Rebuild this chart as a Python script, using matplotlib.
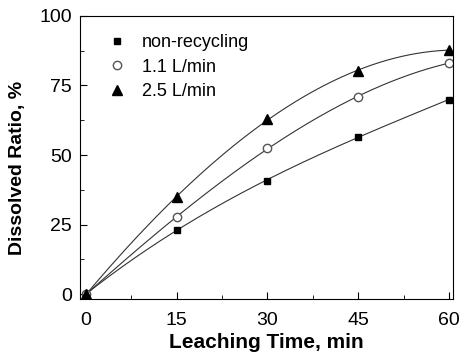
import numpy as np
import matplotlib.pyplot as plt
from matplotlib.ticker import MultipleLocator

plt.rcParams['font.family'] = ['Liberation Sans', 'DejaVu Sans']

# dados
time_min = [0, 15, 30, 45, 60]
non_recycling = [0.0, 23.2, 40.8, 56.6, 69.9]
flow_1_1 = [0.0, 27.6, 52.6, 70.9, 83.1]
flow_2_5 = [0.0, 34.8, 63.1, 80.2, 87.8]

series = [
    ("non-recycling", non_recycling, dict(marker="s", mfc="black", mec="black", ms=5)),
    ("1.1 L/min", flow_1_1, dict(marker="o", mfc="white", mec="#555555", ms=6, mew=1.0)),
    ("2.5 L/min", flow_2_5, dict(marker="^", mfc="black", mec="black", ms=6.5)),
]

fig, ax = plt.subplots(figsize=(4.6, 3.54), dpi=100)
fig.subplots_adjust(left=0.174, right=0.985, top=0.955, bottom=0.155)

t = np.array(time_min, dtype=float)
t_fine = np.linspace(0, 60, 200)
for label, vals, style in series:
    # curva suave ajustada aos pontos
    coef = np.polyfit(t, vals, 3)
    ax.plot(t_fine, np.polyval(coef, t_fine), color="#333333", lw=0.8, zorder=1)
    ax.plot(t, vals, ls="none", label=label, zorder=2, **style)

ax.set_xlim(-1, 60.7)
ax.set_ylim(-1.8, 100)
ax.xaxis.set_major_locator(MultipleLocator(15))
ax.xaxis.set_minor_locator(MultipleLocator(7.5))
ax.yaxis.set_major_locator(MultipleLocator(25))
ax.yaxis.set_minor_locator(MultipleLocator(12.5))
ax.tick_params(which="both", direction="in", top=False, right=False, labelsize=14)
ax.tick_params(axis="x", pad=9)
ax.tick_params(axis="y", pad=6)
ax.tick_params(which="major", length=5)
ax.tick_params(which="minor", length=3)

ax.set_xlabel("Leaching Time, min", fontsize=15, fontweight="bold", labelpad=3)
ax.set_ylabel("Dissolved Ratio, %", fontsize=14, fontweight="bold")
ax.yaxis.set_label_coords(-0.145, 0.463)

ax.legend(loc="upper left", frameon=False, fontsize=13, handlelength=0.8,
          handletextpad=1.0, labelspacing=0.42, borderaxespad=0.3,
          bbox_to_anchor=(0.045, 0.98))

fig.savefig("out.png", dpi=100)
